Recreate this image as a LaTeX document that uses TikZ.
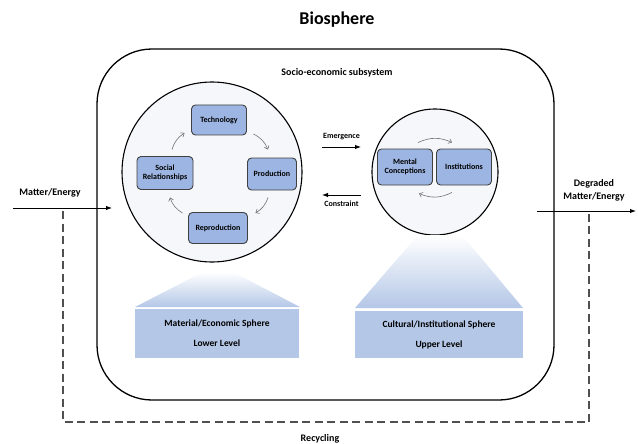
\documentclass[tikz,border=0pt]{standalone}
\usepackage{fontspec}
\setmainfont{Carlito}
\usetikzlibrary{arrows.meta,positioning,calc}
\definecolor{SphBlue}{HTML}{B4C7E7}
\definecolor{BoxBlue}{HTML}{9DB5E2}
\definecolor{CircFill}{HTML}{F5F7FA}
\definecolor{DashGray}{HTML}{505050}

\begin{document}
\begin{tikzpicture}[x=1pt,y=-1pt,
  sbox/.style={draw=black!75,fill=BoxBlue,rounded corners=4pt,line width=0.9pt,
               align=center,inner sep=2pt,font=\bfseries\fontsize{8}{9.5}\selectfont},
  lvl/.style={fill=SphBlue,minimum height=49pt,align=center,
              font=\bfseries\fontsize{9.5}{11}\selectfont},
  circ/.style={circle,draw=black,line width=1.1pt,fill=CircFill,inner sep=0pt},
  lbl/.style={font=\bfseries\fontsize{10}{13}\selectfont,align=center},
  slbl/.style={font=\bfseries\fontsize{8}{9}\selectfont},
  flow/.style={-{Latex[length=6pt,width=4.5pt]},line width=1pt},
  cyc/.style={-{Straight Barb[length=3pt,width=5pt]},draw=black!55,line width=0.6pt},
  recyc/.style={draw=DashGray,line width=1.4pt,dash pattern=on 8pt off 4.5pt},
]
\useasboundingbox (0,0) rectangle (638,444);
\node[font=\bfseries\fontsize{18}{20}\selectfont] (bio) at (337,20) {Biosphere};
\node[draw,line width=1.3pt,rounded corners=55pt,minimum width=457pt,minimum height=351pt]
  (socio) at (325.5,224.5) {};
\node[lbl] (sub) at (337,73) {Socio-economic subsystem};
\node[circ,minimum size=180pt] (mat) at (212,172) {};
\node[circ,minimum size=126pt] (cul) at (435,172) {};
\node[sbox,minimum width=55pt,minimum height=30pt] (tech) at (219,120) {Technology};
\node[sbox,minimum width=49pt,minimum height=32pt] (prod) at (272,174) {Production};
\node[sbox,minimum width=56pt,minimum height=33pt] (soc) at (165,173) {Social\\Relationships};
\node[sbox,minimum width=59pt,minimum height=31pt] (repr) at (218,228) {Reproduction};
\node[sbox,minimum width=55pt,minimum height=36pt] (ment) at (405,167) {Mental\\Conceptions};
\node[sbox,minimum width=55pt,minimum height=36pt] (inst) at (464,167) {Institutions};
\draw[cyc] ($(soc.north)+(7,-6.5)$) to[bend left=20] ($(tech.west)+(-6.5,13)$);
\draw[cyc] ($(tech.east)+(6.5,14)$) to[bend left=20] ($(prod.north)+(-4,-8)$);
\draw[cyc] ($(prod.south)+(-4,7)$) to[bend left=20] ($(repr.east)+(7.5,-15)$);
\draw[cyc] ($(repr.west)+(-5.5,-15)$) to[bend left=20] ($(soc.south)+(5,7.5)$);
\draw[cyc] ($(ment.north)+(13,-6)$) to[bend left=25] ($(inst.north)+(-12,-6)$);
\draw[cyc] ($(inst.south)+(-12,7)$) to[bend left=25] ($(ment.south)+(14,8)$);
\coordinate (em1) at (322,147);
\coordinate (em2) at (361,147);
\coordinate (co1) at (361,195);
\coordinate (co2) at (322,195);
\draw[flow] (em1) -- (em2) node[midway,above=3pt,slbl] (emg) {Emergence};
\draw[flow] (co1) -- (co2) node[midway,below=2pt,slbl] (cst) {Constraint};
\shade[top color=white,bottom color=SphBlue] (135,307) -- (203,272) -- (233,272) -- (300,307) -- cycle;
\shade[top color=white,bottom color=SphBlue] (355,308) -- (418,235) -- (462,235) -- (523,308) -- cycle;
\node[lvl,minimum width=164pt] (low) at (217,333.5) {Material/Economic Sphere\\[9pt]Lower Level};
\node[lvl,minimum width=168pt,minimum height=47pt] (up) at (439,334.5) {Cultural/Institutional Sphere\\[9pt]Upper Level};
\coordinate (in0) at (13,208);
\coordinate (in1) at (112,208);
\coordinate (out0) at (537,211);
\coordinate (out1) at (636,211);
\draw[flow] (in0) -- (in1);
\draw[flow] (out0) -- (out1);
\node[lbl] (inl) at (50,193) {Matter/Energy};
\node[lbl] (outl) at (594,190) {Degraded\\Matter/Energy};
\coordinate (r0) at (63,211);
\coordinate (r1) at (589,213);
\draw[recyc] (r0) -- ++(0,211) -| (r1);
\node[lbl,anchor=south,inner sep=1pt] (rec) at (320,444) {Recycling};
\end{tikzpicture}
\end{document}
